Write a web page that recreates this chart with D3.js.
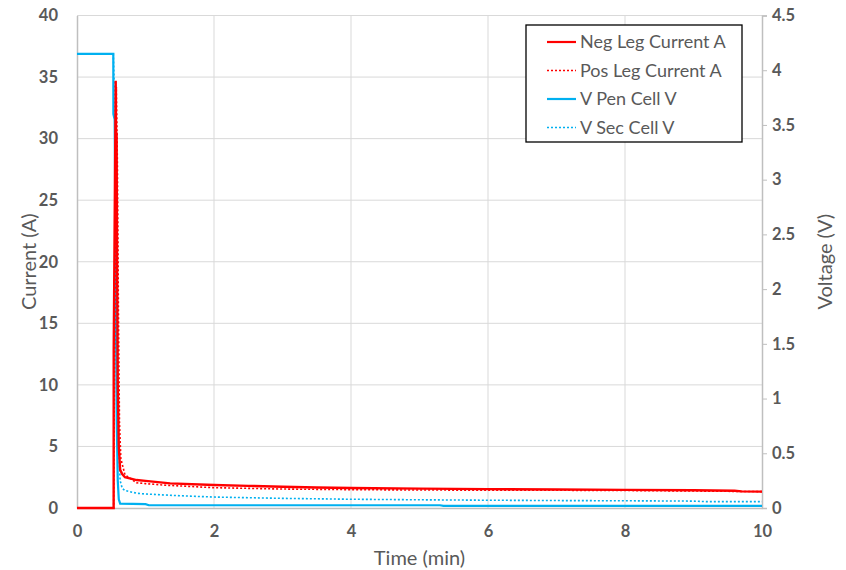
<!DOCTYPE html>
<html>
<head>
<meta charset="utf-8">
<script src="https://cdn.jsdelivr.net/npm/d3@7"></script>
<style>
  html, body { margin: 0; padding: 0; background: #fff; }
  svg { display: block; font-family: Lato, "Open Sans", "Liberation Sans", sans-serif; }
</style>
</head>
<body>
<svg id="chart" width="846" height="570"></svg>
<script>
// Time axis (minutes) and tick labels
const xTicks = [0, 2, 4, 6, 8, 10];
const currentTicks = [0, 5, 10, 15, 20, 25, 30, 35, 40];
const voltageTicks = [0, 0.5, 1, 1.5, 2, 2.5, 3, 3.5, 4, 4.5];

// Neg Leg Current A: [time (min), current (A)]
const negLegCurrent = [
  [0, 0], [0.535, 0], [0.536, 12.8], [0.565, 34.7], [0.572, 28.5], [0.578, 30.5],
  [0.585, 20], [0.595, 10], [0.61, 5], [0.63, 3.1], [0.66, 2.75], [0.7, 2.5],
  [0.87, 2.27], [1.0, 2.2], [1.36, 2.0], [2.0, 1.87], [2.5, 1.8], [3.0, 1.72],
  [3.5, 1.66], [4.0, 1.62], [5.0, 1.57], [6.0, 1.53], [7.0, 1.5], [8.0, 1.47],
  [9.0, 1.44], [9.6, 1.4], [9.7, 1.35], [10, 1.33]
];

// Pos Leg Current A
const posLegCurrent = [
  [0, 0], [0.535, 0], [0.54, 5], [0.575, 34.2], [0.59, 28], [0.605, 16],
  [0.62, 7], [0.64, 4], [0.7, 2.7], [0.87, 2.05], [1.0, 1.98], [1.3, 1.85],
  [2.0, 1.65], [3.0, 1.54], [4.0, 1.49], [5.0, 1.46], [6.0, 1.45], [7.0, 1.44],
  [8.0, 1.42], [9.0, 1.38], [10, 1.33]
];

// V Pen Cell V: [time (min), voltage (V)]
const vPenCell = [
  [0, 4.15], [0.53, 4.15], [0.531, 3.6], [0.55, 3.55], [0.565, 2.0], [0.58, 0.8],
  [0.595, 0.25], [0.61, 0.08], [0.63, 0.04], [1.0, 0.035], [1.05, 0.025],
  [5.3, 0.025], [5.35, 0.02], [10, 0.02]
];

// V Sec Cell V
const vSecCell = [
  [0, 4.15], [0.53, 4.15], [0.56, 3.5], [0.58, 2.5], [0.6, 1.2], [0.615, 0.45],
  [0.63, 0.25], [0.66, 0.18], [0.7, 0.16], [0.87, 0.135], [1.0, 0.128],
  [1.5, 0.112], [2.0, 0.1], [3.0, 0.088], [4.0, 0.08], [5.0, 0.075],
  [6.0, 0.071], [7.0, 0.068], [8.0, 0.066], [9.0, 0.063], [9.2, 0.058], [10, 0.058]
];

const seriesNames = ["Neg Leg Current A", "Pos Leg Current A", "V Pen Cell V", "V Sec Cell V"];

const svg = d3.select("#chart");
const plot = { left: 77, right: 762, top: 15.5, bottom: 508 };

const x = d3.scaleLinear().domain([0, 10]).range([plot.left, plot.right]);
const yI = d3.scaleLinear().domain([0, 40]).range([plot.bottom, plot.top]);
const yV = d3.scaleLinear().domain([0, 4.5]).range([plot.bottom, plot.top]);

const gridColor = "#d9d9d9";
const axisColor = "#bfbfbf";
const textColor = "#595959";

// gridlines
svg.append("g").selectAll("line.h").data(currentTicks.slice(1)).join("line")
  .attr("x1", plot.left).attr("x2", plot.right)
  .attr("y1", d => yI(d)).attr("y2", d => yI(d))
  .attr("stroke", gridColor).attr("stroke-width", 1);
svg.append("g").selectAll("line.v").data(xTicks.slice(1, -1)).join("line")
  .attr("x1", d => x(d)).attr("x2", d => x(d))
  .attr("y1", plot.top).attr("y2", plot.bottom)
  .attr("stroke", gridColor).attr("stroke-width", 1);

// axes
const xAxis = svg.append("g").attr("transform", `translate(0,${plot.bottom})`)
  .call(d3.axisBottom(x).tickValues(xTicks).tickSize(0).tickPadding(17).tickFormat(d3.format("d")));
const leftAxis = svg.append("g").attr("transform", `translate(${plot.left},0)`)
  .call(d3.axisLeft(yI).tickValues(currentTicks).tickSize(0).tickPadding(19).tickFormat(d3.format("d")));
const rightAxis = svg.append("g").attr("transform", `translate(${plot.right},0)`)
  .call(d3.axisRight(yV).tickValues(voltageTicks).tickSize(5).tickPadding(5).tickFormat(d => d));

[xAxis, leftAxis, rightAxis].forEach(a => {
  a.select(".domain").attr("stroke", axisColor).attr("stroke-width", 1.5);
  a.selectAll(".tick line").attr("stroke", axisColor);
  a.selectAll(".tick text").attr("fill", textColor).attr("font-size", 16.5)
    .attr("font-weight", "bold").attr("font-family", "Lato, 'Open Sans', sans-serif");
});

// series lines
const lineI = d3.line().x(d => x(d[0])).y(d => yI(d[1]));
const lineV = d3.line().x(d => x(d[0])).y(d => yV(d[1]));
const red = "#ff0000", blue = "#00b0f0";

svg.append("path").datum(vSecCell).attr("d", lineV).attr("fill", "none")
  .attr("stroke", blue).attr("stroke-width", 1.6).attr("stroke-dasharray", "2,2");
svg.append("path").datum(vPenCell).attr("d", lineV).attr("fill", "none")
  .attr("stroke", blue).attr("stroke-width", 2.2);
svg.append("path").datum(posLegCurrent).attr("d", lineI).attr("fill", "none")
  .attr("stroke", red).attr("stroke-width", 1.6).attr("stroke-dasharray", "2,2");
svg.append("path").datum(negLegCurrent).attr("d", lineI).attr("fill", "none")
  .attr("stroke", red).attr("stroke-width", 2.4);

// axis titles
svg.append("text").attr("x", x(5)).attr("y", 565).attr("text-anchor", "middle")
  .attr("fill", textColor).attr("font-size", 20).text("Time (min)");
svg.append("text").attr("transform", `translate(36,${(plot.top + plot.bottom) / 2}) rotate(-90)`)
  .attr("text-anchor", "middle").attr("fill", textColor).attr("font-size", 20).text("Current (A)");
svg.append("text").attr("transform", `translate(832,${(plot.top + plot.bottom) / 2}) rotate(-90)`)
  .attr("text-anchor", "middle").attr("fill", textColor).attr("font-size", 20).text("Voltage (V)");

// legend
const legend = svg.append("g").attr("transform", "translate(526,25)");
legend.append("rect").attr("width", 216).attr("height", 117)
  .attr("fill", "#fff").attr("stroke", "#000").attr("stroke-width", 1.3);
const styles = [
  { color: red, dash: null, w: 2.2 },
  { color: red, dash: "2,2", w: 1.6 },
  { color: blue, dash: null, w: 2.2 },
  { color: blue, dash: "2,2", w: 1.6 }
];
const rows = legend.selectAll("g.row").data(seriesNames).join("g")
  .attr("transform", (d, i) => `translate(0,${17 + i * 28.5})`);
rows.append("line").attr("x1", 21).attr("x2", 50).attr("y1", 0).attr("y2", 0)
  .attr("stroke", (d, i) => styles[i].color).attr("stroke-width", (d, i) => styles[i].w)
  .attr("stroke-dasharray", (d, i) => styles[i].dash);
rows.append("text").attr("x", 54).attr("y", 6).attr("fill", textColor)
  .attr("font-size", 18).text(d => d);
</script>
</body>
</html>
